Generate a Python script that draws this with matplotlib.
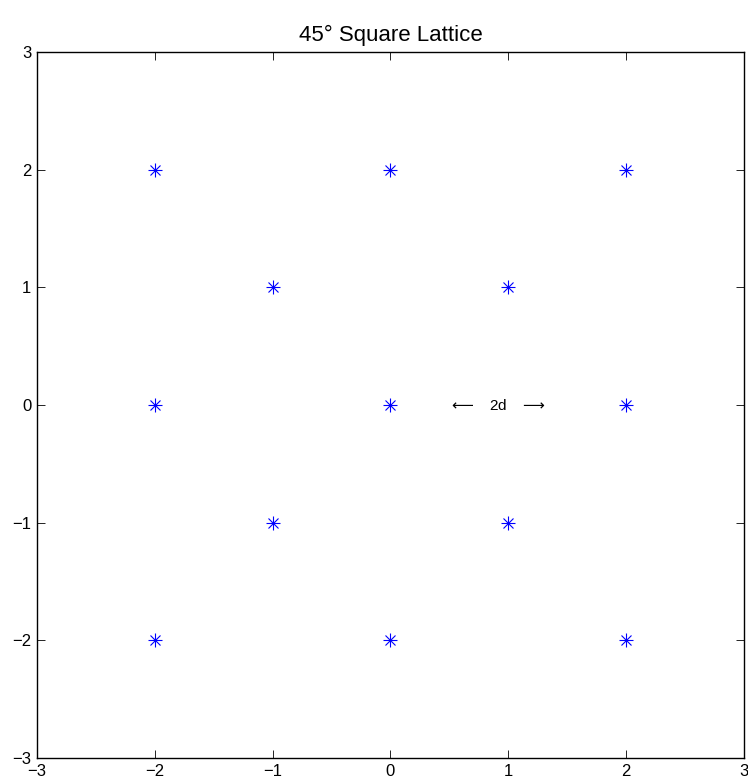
import matplotlib
matplotlib.use('Agg')
import matplotlib.pyplot as plt

plt.rcParams['font.family'] = ['Liberation Sans', 'DejaVu Sans']

# lattice points
xs = [-2, -2, -2, 0, 0, 0, 2, 2, 2, -1, -1, 1, 1]
ys = [-2, 0, 2, -2, 0, 2, -2, 0, 2, -1, 1, -1, 1]
ticks = [-3, -2, -1, 0, 1, 2, 3]

fig = plt.figure(figsize=(7.48, 7.84), dpi=100)
ax = fig.add_axes([0.0495, 0.033, 0.945, 0.9005])
# matlab-style asterisk: plus + cross
ax.plot(xs, ys, '+', color='blue', markersize=10, markeredgewidth=0.8)
ax.plot(xs, ys, 'x', color='blue', markersize=7.5, markeredgewidth=0.8)
ax.text(0.5, 0, r'$\longleftarrow$   2d   $\longrightarrow$', ha='left', va='center', fontsize=11)

ax.set_xlim(-3, 3)
ax.set_ylim(-3, 3)
ax.set_xticks(ticks)
ax.set_yticks(ticks)
ax.set_xticklabels([str(t).replace('-', '\u2212') for t in ticks])
ax.set_yticklabels([str(t).replace('-', '\u2212') for t in ticks])
ax.tick_params(direction='in', top=True, right=True, labelsize=12, length=6, width=0.6, pad=4)
for s in ax.spines.values():
    s.set_linewidth(1.0)
ax.set_title('45\u00b0 Square Lattice', fontsize=16, pad=8)

fig.savefig('out.png', dpi=100)
